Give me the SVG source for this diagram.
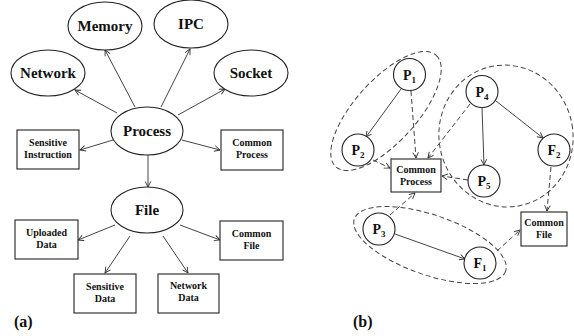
<svg xmlns="http://www.w3.org/2000/svg" width="574" height="336" viewBox="0 0 574 336">
<defs>
<marker id="arr" viewBox="0 0 10 10" refX="9" refY="5" markerWidth="7" markerHeight="7" markerUnits="userSpaceOnUse" orient="auto">
<path d="M1,1 L9,5 L1,9" fill="none" stroke="#333" stroke-width="1.3"/>
</marker>
<style>
.n{fill:#fff;stroke:#222;stroke-width:1.1}
.b{fill:#fff;stroke:#222;stroke-width:1.1}
.t{font-family:"Liberation Serif","Times New Roman",serif;font-weight:bold;fill:#111;text-anchor:middle}
.big{font-size:15px}
.sm{font-size:10px}
.p{font-size:14px}
.sub{font-size:9px}
.c{fill:none;stroke:#444;stroke-width:1;marker-end:url(#arr)}
.d{fill:none;stroke:#444;stroke-width:1;stroke-dasharray:5,3;marker-end:url(#arr)}
.g{fill:none;stroke:#444;stroke-width:1;stroke-dasharray:5,3}
.lab{font-family:"Liberation Serif","Times New Roman",serif;font-weight:bold;font-size:16px;fill:#111}
</style>
</defs>
<rect width="574" height="336" fill="#fff"/>

<!-- groups (dashed) in panel b -->
<g id="groups">
<ellipse class="g" cx="386" cy="111" rx="75" ry="31" transform="rotate(-48 386 111)"/>
<ellipse class="g" cx="506" cy="136" rx="67" ry="71" transform="rotate(-10 506 136)"/>
<ellipse class="g" cx="430" cy="245" rx="80" ry="30" transform="rotate(19 430 245)"/>
</g>

<g id="connectors">
<!-- panel a -->
<line class="c" x1="117" y1="113" x2="75" y2="90"/>
<line class="c" x1="135" y1="107" x2="105" y2="50"/>
<line class="c" x1="161" y1="107" x2="190" y2="49"/>
<line class="c" x1="178" y1="115" x2="225" y2="89"/>
<line class="c" x1="113" y1="140" x2="80" y2="150"/>
<line class="c" x1="182" y1="140" x2="220" y2="150"/>
<line class="c" x1="148" y1="155" x2="148" y2="187"/>
<line class="c" x1="115" y1="225" x2="78" y2="240"/>
<line class="c" x1="130" y1="236" x2="105" y2="273"/>
<line class="c" x1="163" y1="236" x2="188" y2="273"/>
<line class="c" x1="180" y1="225" x2="220" y2="240"/>
<!-- panel b solid -->
<line class="c" x1="401" y1="89" x2="366" y2="137"/>
<line class="c" x1="482" y1="108" x2="484" y2="165"/>
<line class="c" x1="496" y1="101" x2="543" y2="138"/>
<line class="c" x1="395" y1="234" x2="465" y2="259"/>
<!-- panel b dashed -->
<line class="d" x1="411" y1="91" x2="416" y2="158"/>
<line class="d" x1="470" y1="104" x2="428" y2="158"/>
<line class="d" x1="373" y1="160" x2="390" y2="168"/>
<line class="d" x1="468" y1="180" x2="442" y2="176"/>
<line class="d" x1="390" y1="215" x2="415" y2="193"/>
<line class="d" x1="551" y1="167" x2="547" y2="211"/>
<line class="d" x1="497" y1="251" x2="520" y2="230"/>
</g>

<!-- panel a nodes -->
<g id="memory"><ellipse class="n" cx="105" cy="26" rx="37" ry="24"/><text class="t big" x="105" y="31">Memory</text></g>
<g id="ipc"><ellipse class="n" cx="191" cy="24" rx="37" ry="24"/><text class="t big" x="191" y="29">IPC</text></g>
<g id="network"><ellipse class="n" cx="48" cy="73" rx="37" ry="23"/><text class="t big" x="48" y="78">Network</text></g>
<g id="socket"><ellipse class="n" cx="251" cy="73" rx="37" ry="23"/><text class="t big" x="251" y="78">Socket</text></g>
<g id="process"><ellipse class="n" cx="147" cy="131" rx="36" ry="24"/><text class="t big" x="147" y="136">Process</text></g>
<g id="file"><ellipse class="n" cx="147" cy="210" rx="36" ry="23"/><text class="t big" x="147" y="215">File</text></g>
<g id="sens-instr"><rect class="b" x="17" y="130" width="62" height="39"/><text class="t sm" x="48" y="146">Sensitive</text><text class="t sm" x="48" y="158">Instruction</text></g>
<g id="common-process-a"><rect class="b" x="221" y="130" width="62" height="40"/><text class="t sm" x="252" y="146">Common</text><text class="t sm" x="252" y="158">Process</text></g>
<g id="uploaded"><rect class="b" x="15" y="220" width="63" height="39"/><text class="t sm" x="46.5" y="236">Uploaded</text><text class="t sm" x="46.5" y="248">Data</text></g>
<g id="common-file-a"><rect class="b" x="220" y="221" width="63" height="39"/><text class="t sm" x="251.5" y="237">Common</text><text class="t sm" x="251.5" y="249">File</text></g>
<g id="sens-data"><rect class="b" x="74" y="274" width="62" height="39"/><text class="t sm" x="105" y="290">Sensitive</text><text class="t sm" x="105" y="302">Data</text></g>
<g id="net-data"><rect class="b" x="158" y="274" width="61" height="39"/><text class="t sm" x="188.5" y="289">Network</text><text class="t sm" x="188.5" y="301">Data</text></g>
<text class="lab" x="14" y="327">(a)</text>

<!-- panel b nodes -->
<g id="p1"><circle class="n" cx="409.5" cy="74.5" r="16"/><text class="t p" x="409.5" y="79.5">P<tspan class="sub" dy="3">1</tspan></text></g>
<g id="p2"><circle class="n" cx="358" cy="150" r="16"/><text class="t p" x="358" y="155">P<tspan class="sub" dy="3">2</tspan></text></g>
<g id="p4"><circle class="n" cx="482" cy="91.5" r="16"/><text class="t p" x="482" y="96.5">P<tspan class="sub" dy="3">4</tspan></text></g>
<g id="f2"><circle class="n" cx="554" cy="150" r="16"/><text class="t p" x="554" y="155">F<tspan class="sub" dy="3">2</tspan></text></g>
<g id="p5"><circle class="n" cx="484" cy="181" r="16"/><text class="t p" x="484" y="186">P<tspan class="sub" dy="3">5</tspan></text></g>
<g id="p3"><circle class="n" cx="379" cy="229" r="16"/><text class="t p" x="379" y="234">P<tspan class="sub" dy="3">3</tspan></text></g>
<g id="f1"><circle class="n" cx="480" cy="263" r="16"/><text class="t p" x="480" y="268">F<tspan class="sub" dy="3">1</tspan></text></g>
<g id="common-process-b"><rect class="b" x="391" y="159" width="50" height="33"/><text class="t sm" x="416" y="173">Common</text><text class="t sm" x="416" y="185">Process</text></g>
<g id="common-file-b"><rect class="b" x="521" y="212" width="46" height="34"/><text class="t sm" x="544" y="226">Common</text><text class="t sm" x="544" y="238">File</text></g>
<text class="lab" x="353" y="327">(b)</text>
</svg>
